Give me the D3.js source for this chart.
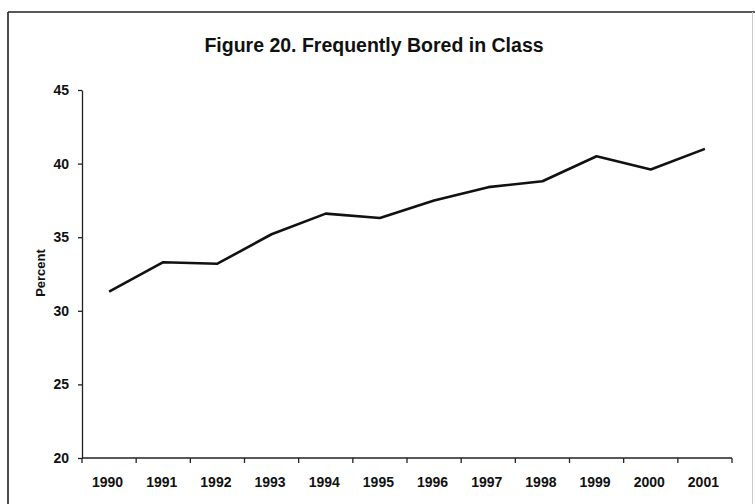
<!DOCTYPE html>
<html>
<head>
<meta charset="utf-8">
<script src="https://cdn.jsdelivr.net/npm/d3@7/dist/d3.min.js"></script>
<style>
  html, body { margin: 0; padding: 0; background: #fff; }
  svg { display: block; }
  text { font-family: "Liberation Sans", Arial, Helvetica, sans-serif; font-weight: bold; fill: #111; }
</style>
</head>
<body>
<svg id="chart" width="755" height="504"></svg>
<script>
const years = ["1990","1991","1992","1993","1994","1995","1996","1997","1998","1999","2000","2001"];
const percent = [31.3, 33.3, 33.2, 35.2, 36.6, 36.3, 37.5, 38.4, 38.8, 40.5, 39.6, 41.0];
const yTicks = [20, 25, 30, 35, 40, 45];
const titleText = "Figure 20. Frequently Bored in Class";
const yLabel = "Percent";

const svg = d3.select("#chart");
const mLeft = 82, mRight = 732, mTop = 90, mBottom = 458;

// frame
svg.append("line").attr("x1", 8).attr("y1", 12).attr("x2", 755).attr("y2", 12)
  .attr("stroke", "#222").attr("stroke-width", 1.6);
svg.append("line").attr("x1", 8).attr("y1", 12).attr("x2", 8).attr("y2", 504)
  .attr("stroke", "#222").attr("stroke-width", 1.6);
svg.append("line").attr("x1", 752.5).attr("y1", 12).attr("x2", 752.5).attr("y2", 504)
  .attr("stroke", "#ccc").attr("stroke-width", 1);

const x = d3.scaleBand().domain(years).range([mLeft, mRight]);
const y = d3.scaleLinear().domain([20, 45]).range([mBottom, mTop]);

// title
svg.append("text").attr("x", 374).attr("y", 52).attr("text-anchor", "middle")
  .style("font-size", "19.5px").text(titleText);

// y axis
const yAxis = svg.append("g").attr("transform", `translate(${mLeft},0)`)
  .call(d3.axisLeft(y).tickValues(yTicks).tickSize(4).tickSizeOuter(0).tickPadding(9));
yAxis.selectAll("path, line").attr("stroke", "#222").attr("stroke-width", 1.3);
yAxis.selectAll("text").style("font-size", "14px").style("font-family", "'Liberation Sans', Arial, sans-serif").style("font-weight", "bold").attr("fill", "#111");

// x axis with ticks at band boundaries
const xAxisG = svg.append("g").attr("transform", `translate(0,${mBottom})`);
xAxisG.append("line").attr("x1", mLeft).attr("x2", mRight).attr("y1", 0).attr("y2", 0)
  .attr("stroke", "#222").attr("stroke-width", 1.3);
const boundaries = years.map(d => x(d)).concat([x(years[years.length - 1]) + x.bandwidth()]);
xAxisG.selectAll("line.tk").data(boundaries).enter().append("line").attr("class", "tk")
  .attr("x1", d => d).attr("x2", d => d).attr("y1", 0).attr("y2", 5)
  .attr("stroke", "#222").attr("stroke-width", 1.3);
xAxisG.selectAll("text.lb").data(years).enter().append("text").attr("class", "lb")
  .attr("x", d => x(d) + x.bandwidth() / 2 - 1.5).attr("y", 29)
  .attr("text-anchor", "middle").style("font-size", "14px").text(d => d);

// y label
svg.append("text").attr("transform", "translate(45,273) rotate(-90)")
  .attr("text-anchor", "middle").style("font-size", "13px").text(yLabel);

// line
const line = d3.line().x((d, i) => x(years[i]) + x.bandwidth() / 2).y(d => y(d));
svg.append("path").datum(percent).attr("d", line)
  .attr("fill", "none").attr("stroke", "#111").attr("stroke-width", 2.6)
  .attr("stroke-linejoin", "round");
</script>
</body>
</html>
